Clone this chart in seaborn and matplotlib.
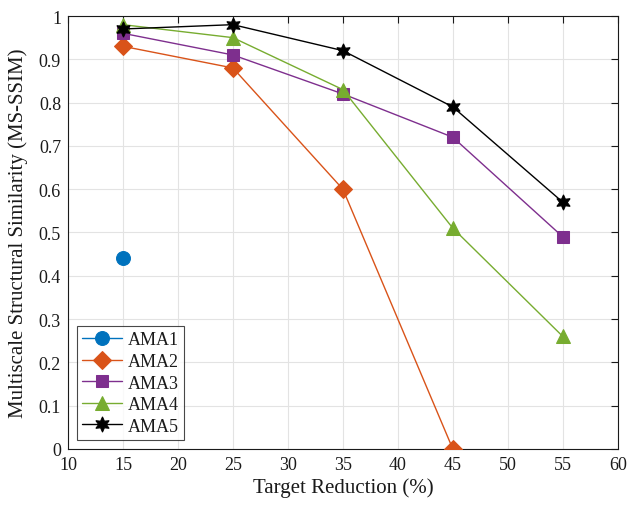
import matplotlib
matplotlib.use("Agg")
import matplotlib.pyplot as plt
import seaborn as sns
import pandas as pd

sns.set_theme(style="white")
plt.rcParams['font.family'] = ['Liberation Serif', 'DejaVu Serif']
plt.rcParams['mathtext.fontset'] = 'stix'

x_ama1 = [15]
y_ama1 = [0.44]
x_ama2 = [15, 25, 35, 45]
y_ama2 = [0.93, 0.88, 0.60, 0.0]
x_ama3 = [15, 25, 35, 45, 55]
y_ama3 = [0.96, 0.91, 0.82, 0.72, 0.49]
x_ama4 = [15, 25, 35, 45, 55]
y_ama4 = [0.98, 0.95, 0.83, 0.51, 0.26]
x_ama5 = [15, 25, 35, 45, 55]
y_ama5 = [0.97, 0.98, 0.92, 0.79, 0.57]

series = [
    ("AMA1", x_ama1, y_ama1, "#0072BD", "o", 10),
    ("AMA2", x_ama2, y_ama2, "#D95319", "D", 9),
    ("AMA3", x_ama3, y_ama3, "#7E2F8E", "s", 8),
    ("AMA4", x_ama4, y_ama4, "#77AC30", "^", 10),
    ("AMA5", x_ama5, y_ama5, "#000000", (6, 1, 0), 11),
]

fig = plt.figure(figsize=(6.31, 5.06), dpi=100)
ax = fig.add_axes([0.1078, 0.1107, 0.8712, 0.8557])

for name, xs, ys, col, mk, ms in series:
    df = pd.DataFrame({"x": xs, "y": ys})
    sns.lineplot(data=df, x="x", y="y", ax=ax, color=col, marker=mk,
                 markersize=ms, markeredgecolor=col, linewidth=1.0,
                 label=name, zorder=3)

tc = "#1a1a1a"
ax.set_xlim(10, 60)
ax.set_ylim(0, 1)
ax.set_xticks(range(10, 61, 5))
ax.set_yticks([i / 10 for i in range(11)])
ax.set_yticklabels(["0", "0.1", "0.2", "0.3", "0.4", "0.5", "0.6", "0.7", "0.8", "0.9", "1"])
ax.grid(True, color="#e3e3e3", linewidth=0.8)
ax.tick_params(direction="in", length=5, width=0.8, top=True, right=True,
               labelsize=13, colors=tc, pad=5)
for s in ax.spines.values():
    s.set_color(tc)
    s.set_linewidth(0.8)
    s.set_visible(True)
ax.set_xlabel("Target Reduction (%)", fontsize=15, color=tc, labelpad=3)
ax.set_ylabel("Multiscale Structural Similarity (MS-SSIM)", fontsize=15, color=tc, labelpad=8)

leg = ax.legend(loc="lower left", fontsize=13, frameon=True, fancybox=False,
                edgecolor=tc, borderpad=0.3, handlelength=2.2,
                handletextpad=0.3, labelspacing=0.25, borderaxespad=0.5)
leg.get_frame().set_linewidth(0.8)
for t in leg.get_texts():
    t.set_color(tc)

fig.savefig("out.png", dpi=100)
